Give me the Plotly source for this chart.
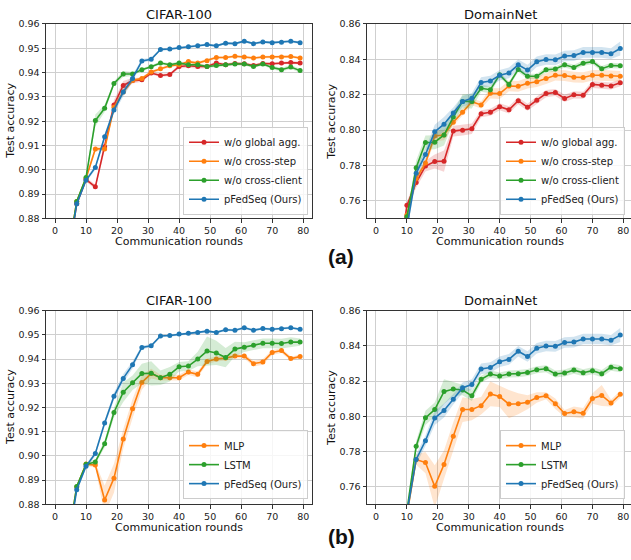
import plotly.graph_objects as go

W, H = 631, 560

rounds = [1, 4, 7, 10, 13, 16, 19, 22, 25, 28, 31, 34, 37, 40, 43, 46, 49, 52, 55, 58, 61, 64, 67, 70, 73, 76, 79]

# ---------------- CIFAR-100 ----------------
cifar_pfedseq = [0.80, 0.862, 0.886, 0.8957, 0.901, 0.9136, 0.9246, 0.932, 0.9376, 0.9448, 0.9455, 0.9495, 0.9497, 0.9503,
                 0.9506, 0.951, 0.9515, 0.951, 0.9521, 0.9519, 0.9529, 0.9519, 0.9526, 0.9523, 0.9525, 0.9529, 0.9523]
cifar_pfedseq_std = [0.001, 0.001, 0.0008, 0.0008, 0.001, 0.0012, 0.0015, 0.0018, 0.0015, 0.0008, 0.0006, 0.0005, 0.0005, 0.0005,
                     0.0005, 0.0005, 0.0005, 0.0005, 0.0005, 0.0005, 0.0005, 0.0005, 0.0005, 0.0005, 0.0005, 0.0005, 0.0005]
cifar_no_global = [0.80, 0.862, 0.886, 0.896, 0.893, 0.9095, 0.9267, 0.9347, 0.9367, 0.937, 0.9398, 0.9388, 0.9392, 0.9425,
                   0.9428, 0.9425, 0.9425, 0.9439, 0.9432, 0.9437, 0.9436, 0.9429, 0.9437, 0.9436, 0.9439, 0.9441, 0.9439]
cifar_no_global_std = [0.001, 0.001, 0.0008, 0.0008, 0.001, 0.0018, 0.002, 0.0018, 0.0012, 0.0008, 0.0006, 0.0006, 0.0006, 0.0008,
                       0.0008, 0.0009, 0.0007, 0.0006, 0.0006, 0.0006, 0.0006, 0.0006, 0.0006, 0.0006, 0.0006, 0.0006, 0.0006]
cifar_no_step = [0.80, 0.863, 0.887, 0.8964, 0.9086, 0.9086, 0.9257, 0.932, 0.9367, 0.9376, 0.9402, 0.9416, 0.9428, 0.9432,
                 0.9445, 0.9439, 0.9449, 0.9462, 0.9462, 0.9467, 0.9464, 0.946, 0.9464, 0.9464, 0.9464, 0.9466, 0.946]
cifar_no_step_std = [0.001, 0.001, 0.0008, 0.0008, 0.001, 0.001, 0.0012, 0.001, 0.0008, 0.0006, 0.0006, 0.0006, 0.0006, 0.0006,
                     0.0006, 0.0006, 0.0006, 0.0005, 0.0005, 0.0005, 0.0005, 0.0005, 0.0005, 0.0005, 0.0005, 0.0005, 0.0005]
cifar_no_client = [0.80, 0.863, 0.887, 0.8968, 0.9203, 0.9253, 0.9355, 0.9394, 0.9394, 0.9412, 0.9424, 0.9439, 0.9432, 0.9439,
                   0.9432, 0.9432, 0.9425, 0.9429, 0.9432, 0.9435, 0.9435, 0.9425, 0.9435, 0.9421, 0.9412, 0.9423, 0.9408]
cifar_no_client_std = [0.001, 0.001, 0.0008, 0.0008, 0.0025, 0.0015, 0.0008, 0.0012, 0.0008, 0.0006, 0.0006, 0.0006, 0.0006, 0.0006,
                       0.0006, 0.0006, 0.0006, 0.0006, 0.0006, 0.0006, 0.0006, 0.0006, 0.0006, 0.0007, 0.0008, 0.0008, 0.0008]
cifar_mlp = [0.80, 0.863, 0.8872, 0.8966, 0.8962, 0.8818, 0.8908, 0.907, 0.9195, 0.9303, 0.934, 0.9323, 0.9323, 0.9323,
             0.9346, 0.9337, 0.939, 0.940, 0.9404, 0.9412, 0.9412, 0.9381, 0.9388, 0.9427, 0.9435, 0.9402, 0.941]
cifar_mlp_std = [0.001, 0.001, 0.0008, 0.0008, 0.001, 0.006, 0.006, 0.004, 0.004, 0.003, 0.002, 0.0012, 0.0012, 0.0012,
                 0.0012, 0.0012, 0.0012, 0.001, 0.001, 0.001, 0.001, 0.0012, 0.0012, 0.001, 0.001, 0.0008, 0.0008]
cifar_lstm = [0.80, 0.863, 0.8874, 0.8965, 0.8975, 0.905, 0.9179, 0.9263, 0.9302, 0.934, 0.9341, 0.9323, 0.9337, 0.9368,
              0.9371, 0.940, 0.9433, 0.9425, 0.9406, 0.9441, 0.9449, 0.9457, 0.9465, 0.9465, 0.9464, 0.947, 0.947]
cifar_lstm_std = [0.001, 0.001, 0.0008, 0.0008, 0.001, 0.0015, 0.002, 0.004, 0.003, 0.004, 0.005, 0.003, 0.003, 0.002,
                  0.002, 0.003, 0.006, 0.005, 0.004, 0.003, 0.002, 0.002, 0.002, 0.002, 0.002, 0.002, 0.0015]

# ---------------- DomainNet ----------------
dn_pfedseq = [0.60, 0.68, 0.72, 0.745, 0.7755, 0.7861, 0.799, 0.8033, 0.8097, 0.8162, 0.818, 0.8269, 0.8277, 0.831,
              0.8323, 0.8369, 0.8339, 0.8386, 0.8399, 0.8397, 0.8419, 0.8421, 0.8439, 0.8439, 0.8439, 0.8432, 0.8461]
dn_pfedseq_std = [0.004, 0.004, 0.004, 0.003, 0.003, 0.003, 0.004, 0.004, 0.003, 0.003, 0.003, 0.003, 0.003, 0.003,
                  0.003, 0.003, 0.003, 0.003, 0.003, 0.003, 0.003, 0.003, 0.003, 0.003, 0.003, 0.003, 0.004]
dn_no_global = [0.60, 0.68, 0.72, 0.7574, 0.7703, 0.7796, 0.7822, 0.7824, 0.7994, 0.7999, 0.8007, 0.8092, 0.8101, 0.8132,
                0.8114, 0.8166, 0.8129, 0.8169, 0.8206, 0.8212, 0.8179, 0.8199, 0.8197, 0.8258, 0.8253, 0.8249, 0.8267]
dn_no_global_std = [0.003, 0.003, 0.003, 0.002, 0.003, 0.003, 0.004, 0.006, 0.003, 0.003, 0.003, 0.002, 0.002, 0.002,
                    0.002, 0.002, 0.002, 0.002, 0.002, 0.002, 0.002, 0.002, 0.002, 0.002, 0.002, 0.002, 0.002]
dn_no_step = [0.60, 0.68, 0.73, 0.752, 0.7726, 0.7814, 0.7966, 0.7972, 0.8044, 0.8101, 0.816, 0.8142, 0.8208, 0.8206,
              0.8249, 0.8247, 0.8265, 0.8273, 0.8291, 0.831, 0.8308, 0.8299, 0.8297, 0.831, 0.831, 0.8306, 0.8304]
dn_no_step_std = [0.003, 0.003, 0.003, 0.002, 0.002, 0.002, 0.003, 0.003, 0.002, 0.002, 0.002, 0.002, 0.003, 0.003,
                  0.003, 0.003, 0.003, 0.003, 0.003, 0.003, 0.003, 0.003, 0.003, 0.003, 0.003, 0.003, 0.003]
dn_no_client = [0.60, 0.68, 0.72, 0.751, 0.7787, 0.7929, 0.7931, 0.7972, 0.8073, 0.8162, 0.8162, 0.8236, 0.8228, 0.8313,
                0.8258, 0.8343, 0.8304, 0.8304, 0.8341, 0.8345, 0.8369, 0.8354, 0.8378, 0.8387, 0.8347, 0.8365, 0.8363]
dn_no_client_std = [0.003, 0.003, 0.003, 0.002, 0.004, 0.004, 0.004, 0.006, 0.003, 0.004, 0.004, 0.002, 0.002, 0.0015,
                    0.0015, 0.0015, 0.0015, 0.0015, 0.0015, 0.0015, 0.0015, 0.0015, 0.0015, 0.0015, 0.0015, 0.0015, 0.0015]
dn_mlp = [0.60, 0.68, 0.72, 0.744, 0.7754, 0.7737, 0.7602, 0.7726, 0.7886, 0.8038, 0.8038, 0.806, 0.8127, 0.8112,
          0.8069, 0.8071, 0.808, 0.8107, 0.8116, 0.8071, 0.8016, 0.8025, 0.8017, 0.8101, 0.8118, 0.8075, 0.8125]
dn_mlp_std = [0.004, 0.004, 0.004, 0.003, 0.003, 0.006, 0.012, 0.008, 0.008, 0.007, 0.006, 0.005, 0.007, 0.006,
              0.008, 0.006, 0.004, 0.003, 0.002, 0.003, 0.002, 0.003, 0.003, 0.003, 0.006, 0.002, 0.002]
dn_lstm = [0.60, 0.68, 0.72, 0.746, 0.783, 0.7991, 0.8038, 0.814, 0.8155, 0.8149, 0.8116, 0.821, 0.824, 0.8229,
           0.824, 0.8242, 0.8249, 0.8264, 0.827, 0.824, 0.8246, 0.8262, 0.8247, 0.8259, 0.8242, 0.8279, 0.827]
dn_lstm_std = [0.003, 0.003, 0.003, 0.003, 0.003, 0.004, 0.004, 0.007, 0.004, 0.003, 0.003, 0.002, 0.002, 0.002,
               0.002, 0.002, 0.002, 0.002, 0.002, 0.002, 0.002, 0.002, 0.002, 0.002, 0.002, 0.002, 0.002]

x_ticks = [0, 10, 20, 30, 40, 50, 60, 70, 80]
cifar_ticks = [0.88, 0.89, 0.90, 0.91, 0.92, 0.93, 0.94, 0.95, 0.96]
dn_ticks = [0.76, 0.78, 0.80, 0.82, 0.84, 0.86]

BLUE, ORANGE, GREEN, RED = "#1f77b4", "#ff7f0e", "#2ca02c", "#d62728"
FILLS = {BLUE: "rgba(31,119,180,0.2)", ORANGE: "rgba(255,127,14,0.2)",
         GREEN: "rgba(44,160,44,0.2)", RED: "rgba(214,39,40,0.2)"}

FONT = "DejaVu Sans"

fig = go.Figure()


def add_series(name, mean, std, color, ax, legend):
    xs = "x" if ax == 1 else "x%d" % ax
    ys = "y" if ax == 1 else "y%d" % ax
    upper = [m + s for m, s in zip(mean, std)]
    lower = [m - s for m, s in zip(mean, std)]
    fig.add_trace(go.Scatter(
        x=rounds + rounds[::-1], y=upper + lower[::-1], fill="toself",
        fillcolor=FILLS[color], line=dict(width=0), mode="lines",
        hoverinfo="skip", showlegend=False, xaxis=xs, yaxis=ys))
    fig.add_trace(go.Scatter(
        x=rounds, y=mean, name=name, mode="lines+markers",
        line=dict(color=color, width=1.6), marker=dict(color=color, size=5),
        xaxis=xs, yaxis=ys, legend=legend))


# panel 1: CIFAR ablation
add_series("w/o global agg.", cifar_no_global, cifar_no_global_std, RED, 1, "legend")
add_series("w/o cross-step", cifar_no_step, cifar_no_step_std, ORANGE, 1, "legend")
add_series("w/o cross-client", cifar_no_client, cifar_no_client_std, GREEN, 1, "legend")
add_series("pFedSeq (Ours)", cifar_pfedseq, cifar_pfedseq_std, BLUE, 1, "legend")
# panel 2: DomainNet ablation
add_series("w/o global agg.", dn_no_global, dn_no_global_std, RED, 2, "legend2")
add_series("w/o cross-step", dn_no_step, dn_no_step_std, ORANGE, 2, "legend2")
add_series("w/o cross-client", dn_no_client, dn_no_client_std, GREEN, 2, "legend2")
add_series("pFedSeq (Ours)", dn_pfedseq, dn_pfedseq_std, BLUE, 2, "legend2")
# panel 3: CIFAR architectures
add_series("MLP", cifar_mlp, cifar_mlp_std, ORANGE, 3, "legend3")
add_series("LSTM", cifar_lstm, cifar_lstm_std, GREEN, 3, "legend3")
add_series("pFedSeq (Ours)", cifar_pfedseq, cifar_pfedseq_std, BLUE, 3, "legend3")
# panel 4: DomainNet architectures
add_series("MLP", dn_mlp, dn_mlp_std, ORANGE, 4, "legend4")
add_series("LSTM", dn_lstm, dn_lstm_std, GREEN, 4, "legend4")
add_series("pFedSeq (Ours)", dn_pfedseq, dn_pfedseq_std, BLUE, 4, "legend4")


def px(x):
    return x / W


def py(y):
    return 1 - y / H


LEFT_X = [46.0, 312.2]
RIGHT_X = [367.0, 631.0]
TOP_Y = [216.7, 18.3]
BOT_Y = [508.3, 310.7]

axis_common = dict(showgrid=True, gridcolor="#cfcfcf", gridwidth=1, zeroline=False,
                   showline=True, linecolor="#333333", linewidth=1,
                   ticks="outside", ticklen=3.5, tickwidth=0.8, tickcolor="#333333",
                   tickfont=dict(family=FONT, size=9.5, color="#222222"))

xr_left = [-2.9, 82.9]
xr_right = [-2.9, -2.9 + (RIGHT_X[1] - RIGHT_X[0]) / 3.0925]

layout_axes = {}
for i, (xd, yd, xr, yticks, yr, mirror_y) in enumerate([
        (LEFT_X, TOP_Y, xr_left, cifar_ticks, [0.88, 0.96], True),
        (RIGHT_X, TOP_Y, xr_right, dn_ticks, [0.75, 0.86], False),
        (LEFT_X, BOT_Y, xr_left, cifar_ticks, [0.88, 0.96], True),
        (RIGHT_X, BOT_Y, xr_right, dn_ticks, [0.75, 0.86], False)], start=1):
    xk = "xaxis" if i == 1 else "xaxis%d" % i
    yk = "yaxis" if i == 1 else "yaxis%d" % i
    anchor_y = "y" if i == 1 else "y%d" % i
    anchor_x = "x" if i == 1 else "x%d" % i
    layout_axes[xk] = dict(axis_common, domain=[px(xd[0]), px(xd[1])], range=xr,
                           tickvals=x_ticks, anchor=anchor_y, mirror=True)
    layout_axes[yk] = dict(axis_common, domain=[py(yd[0]), py(yd[1])], range=yr,
                           tickvals=yticks, tickformat=".2f", anchor=anchor_x,
                           mirror=mirror_y)

fig.update_layout(**layout_axes)

legend_common = dict(bgcolor="rgba(255,255,255,0.8)", bordercolor="#cccccc", borderwidth=1,
                     font=dict(family=FONT, size=10, color="#222222"),
                     xanchor="right", yanchor="bottom", tracegroupgap=0, itemwidth=30)
fig.update_layout(
    legend=dict(legend_common, x=px(308), y=py(213)),
    legend2=dict(legend_common, x=px(625), y=py(213)),
    legend3=dict(legend_common, x=px(308), y=py(503)),
    legend4=dict(legend_common, x=px(625), y=py(503)),
)

annotations = []


def text(s, x, y, size, angle=0, bold=False, family=FONT):
    annotations.append(dict(text=("<b>%s</b>" % s) if bold else s, x=px(x), y=py(y),
                            xref="paper", yref="paper", showarrow=False,
                            xanchor="center", yanchor="middle", textangle=angle,
                            font=dict(family=family, size=size, color="#111111")))


for (xd, yt, yb, title) in [(LEFT_X, 18.3, 216.7, "CIFAR-100"), ((367.0, 633.0), 18.3, 216.7, "DomainNet"),
                            (LEFT_X, 310.7, 508.3, "CIFAR-100"), ((367.0, 633.0), 310.7, 508.3, "DomainNet")]:
    cx = (xd[0] + xd[1]) / 2
    text(title, cx, yt - 10, 13)
    text("Communication rounds", cx, yb + 23.5, 11)
    text("Test accuracy", xd[0] - 35.5, (yt + yb) / 2, 11, angle=-90)

text("(a)", 341, 256, 21, bold=True, family="Liberation Sans")
text("(b)", 341, 541, 21, bold=True, family="Liberation Sans")

fig.update_layout(annotations=annotations, width=W, height=H,
                  margin=dict(l=0, r=0, t=0, b=0),
                  paper_bgcolor="white", plot_bgcolor="white",
                  font=dict(family=FONT))

fig.write_html("out.html", config={"displayModeBar": False},
               post_script="document.body.style.margin='0';document.body.style.overflow='hidden';")
